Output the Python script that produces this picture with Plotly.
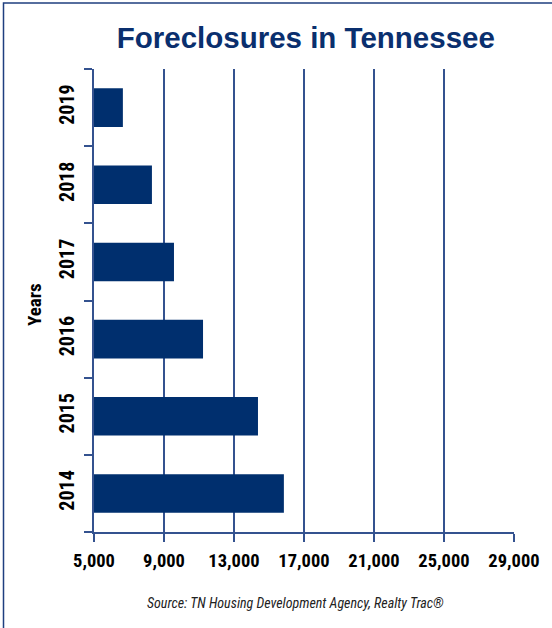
import plotly.graph_objects as go

years = ["2014", "2015", "2016", "2017", "2018", "2019"]
foreclosures = [15850, 14370, 11230, 9570, 8310, 6650]
x_ticks = [5000, 9000, 13000, 17000, 21000, 25000, 29000]
x_tick_labels = ["5,000", "9,000", "13,000", "17,000", "21,000", "25,000", "29,000"]

title_text = "Foreclosures in Tennessee"
y_title = "Years"
source_text = "Source: TN Housing Development Agency, Realty Trac®"

BAR = "#002f6e"
LINE = "#34528f"
COND = "Roboto Condensed, Liberation Sans Narrow, sans-serif"

fig = go.Figure(go.Bar(
    x=foreclosures, y=years, orientation="h",
    marker=dict(color=BAR, line=dict(width=0)),
    width=0.5, hoverinfo="skip",
))

fig.update_layout(
    width=552, height=628,
    margin=dict(l=94, r=38, t=69, b=96),
    paper_bgcolor="white", plot_bgcolor="white",
    showlegend=False,
    title=dict(text=title_text, x=0.554, xanchor="center", xref="container",
               y=1 - 37.5 / 628, yanchor="middle",
               font=dict(family="Liberation Sans, Arial, sans-serif", size=29.5, color="#0a2f6e", weight="bold")),
    xaxis=dict(range=[5000, 29000], tickvals=x_ticks, ticktext=x_tick_labels,
               showgrid=True, gridcolor=LINE, gridwidth=1.5,
               showline=True, linecolor=LINE, linewidth=1.5,
               ticks="outside", ticklen=8, tickcolor=LINE, tickwidth=1.5,
               ticklabelstandoff=3,
               tickfont=dict(family=COND, size=18.5, color="black", weight="bold"),
               zeroline=False, fixedrange=True),
    yaxis=dict(type="category", categoryorder="array", categoryarray=years,
               showgrid=False, showline=True, linecolor=LINE, linewidth=1.5,
               ticks="outside", ticklen=8, tickcolor=LINE, tickwidth=1.5,
               tickson="boundaries", tickangle=-90, ticklabelstandoff=10,
               tickfont=dict(family=COND, size=20, color="black", weight="bold"),
               fixedrange=True),
    annotations=[
        dict(text=source_text, xref="paper", yref="paper",
             x=(295 - 94) / 420, y=(532 - 602.5) / 463, xanchor="center", yanchor="middle",
             showarrow=False,
             font=dict(family=COND, size=14, color="#222222", style="italic")),
        dict(text=y_title, xref="paper", yref="paper", textangle=-90,
             x=(34 - 94) / 420, y=(532 - 305) / 463, xanchor="center", yanchor="middle",
             showarrow=False,
             font=dict(family=COND, size=19, color="black", weight="bold")),
    ],
    shapes=[dict(type="rect", xref="paper", yref="paper",
                 x0=(3.5 - 94) / 420, x1=1.2, y0=-0.3, y1=(532 - 3) / 463,
                 line=dict(color="#1f3f7f", width=1.5), layer="below")],
)

fig.write_html("out.html", config={"displayModeBar": False},
               post_script="document.body.style.margin='0';document.body.style.overflow='hidden';")
